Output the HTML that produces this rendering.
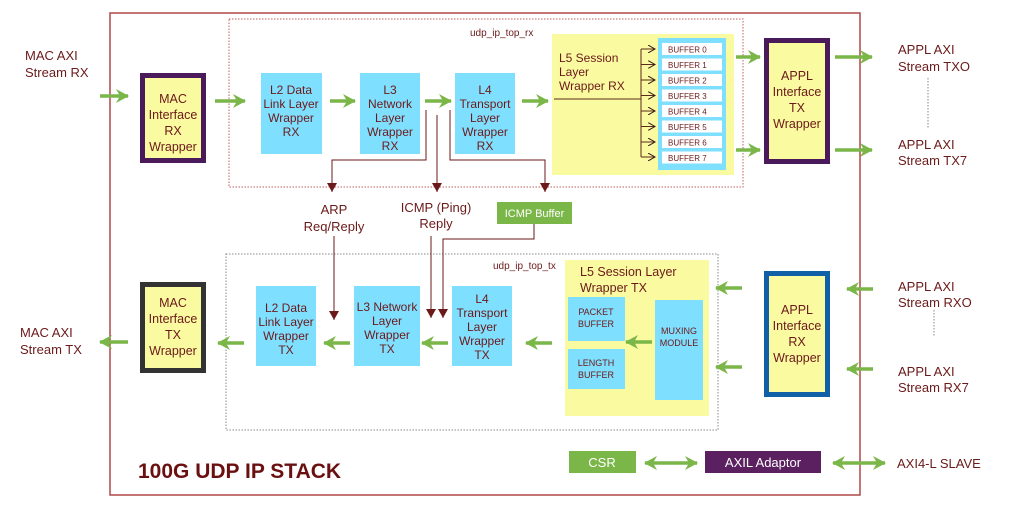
<!DOCTYPE html>
<html><head><meta charset="utf-8"><style>
body{margin:0;background:#fff}
svg{display:block}
text{font-family:"Liberation Sans",Arial,sans-serif;fill:#6b1a1a}
</style></head><body>
<svg width="1024" height="521" viewBox="0 0 1024 521" xmlns="http://www.w3.org/2000/svg">
<defs>
<marker id="g" markerUnits="userSpaceOnUse" markerWidth="14" markerHeight="14" refX="12" refY="7" orient="auto-start-reverse"><path d="M0,0 L13,7 L0,14 L4,7 Z" fill="#7ab648"/></marker>
<marker id="r" markerUnits="userSpaceOnUse" markerWidth="10" markerHeight="10" refX="5" refY="9" orient="0"><path d="M0,0 L10,0 L5,9 Z" fill="#6b1a1a"/></marker>
<marker id="rr" markerUnits="userSpaceOnUse" markerWidth="8" markerHeight="8" refX="7" refY="4" orient="auto"><path d="M0,0 L7,4 L0,8" fill="none" stroke="#3a1a1a" stroke-width="1"/></marker>
</defs>
<!-- outer -->
<rect x="110" y="13" width="750" height="482" fill="none" stroke="#b04848" stroke-width="1.5"/>
<rect x="229" y="19" width="514" height="168" fill="none" stroke="#c06060" stroke-width="1" stroke-dasharray="1.5,1.5"/>
<text x="470" y="36" font-size="10">udp_ip_top_rx</text>
<rect x="226" y="254" width="492" height="176" fill="none" stroke="#888" stroke-width="1" stroke-dasharray="1.5,1.5"/>
<text x="493" y="269" font-size="10">udp_ip_top_tx</text>

<!-- RX blocks -->
<rect x="142.5" y="75.5" width="61" height="85" fill="#fafaa0" stroke="#4a1a5a" stroke-width="5"/>
<text font-size="12.5" text-anchor="middle"><tspan x="173" y="103">MAC</tspan><tspan x="173" y="119">Interface</tspan><tspan x="173" y="135">RX</tspan><tspan x="173" y="151">Wrapper</tspan></text>
<rect x="261" y="73" width="61" height="81" fill="#7fdfff"/>
<text font-size="12" text-anchor="middle"><tspan x="291" y="94">L2 Data</tspan><tspan x="291" y="108">Link Layer</tspan><tspan x="291" y="122">Wrapper</tspan><tspan x="291" y="136">RX</tspan></text>
<rect x="360" y="73" width="60" height="81" fill="#7fdfff"/>
<text font-size="12" text-anchor="middle"><tspan x="390" y="94">L3</tspan><tspan x="390" y="108">Network</tspan><tspan x="390" y="122">Layer</tspan><tspan x="390" y="136">Wrapper</tspan><tspan x="390" y="150">RX</tspan></text>
<rect x="455" y="73" width="60" height="81" fill="#7fdfff"/>
<text font-size="12" text-anchor="middle"><tspan x="485" y="94">L4</tspan><tspan x="485" y="108">Transport</tspan><tspan x="485" y="122">Layer</tspan><tspan x="485" y="136">Wrapper</tspan><tspan x="485" y="150">RX</tspan></text>
<rect x="552" y="34" width="182" height="141" fill="#fafaa0"/>
<text font-size="12"><tspan x="559" y="62">L5 Session</tspan><tspan x="559" y="76">Layer</tspan><tspan x="559" y="90">Wrapper RX</tspan></text>
<rect x="658" y="38" width="68" height="132" fill="#7fdfff"/>
<g fill="#fff"><rect x="662" y="43" width="60" height="12"/><rect x="662" y="58.5" width="60" height="12"/><rect x="662" y="74" width="60" height="12"/><rect x="662" y="89.5" width="60" height="12"/><rect x="662" y="105" width="60" height="12"/><rect x="662" y="120.5" width="60" height="12"/><rect x="662" y="136" width="60" height="12"/><rect x="662" y="151.5" width="60" height="12"/></g>
<g font-size="8"><text x="668" y="52.5">BUFFER 0</text><text x="668" y="68">BUFFER 1</text><text x="668" y="83.5">BUFFER 2</text><text x="668" y="99">BUFFER 3</text><text x="668" y="114.5">BUFFER 4</text><text x="668" y="130">BUFFER 5</text><text x="668" y="145.5">BUFFER 6</text><text x="668" y="161">BUFFER 7</text></g>
<g stroke="#5a2a1a" stroke-width="1" fill="none">
<line x1="554" y1="99" x2="641" y2="99"/><line x1="641" y1="49" x2="641" y2="157"/>
<g marker-end="url(#rr)"><line x1="641" y1="49" x2="655" y2="49"/><line x1="641" y1="64.5" x2="655" y2="64.5"/><line x1="641" y1="80" x2="655" y2="80"/><line x1="641" y1="95.5" x2="655" y2="95.5"/><line x1="641" y1="111" x2="655" y2="111"/><line x1="641" y1="126.5" x2="655" y2="126.5"/><line x1="641" y1="142" x2="655" y2="142"/><line x1="641" y1="157" x2="655" y2="157"/></g>
</g>
<rect x="766.5" y="40.5" width="61" height="121" fill="#fafaa0" stroke="#4a1a5a" stroke-width="5"/>
<text font-size="12.5" text-anchor="middle"><tspan x="797" y="80">APPL</tspan><tspan x="797" y="96">Interface</tspan><tspan x="797" y="112">TX</tspan><tspan x="797" y="128">Wrapper</tspan></text>

<!-- RX branch lines -->
<g stroke="#6b1a1a" stroke-width="1" fill="none">
<polyline points="426,110 426,160 332,160 332,192" marker-end="url(#r)"/>
<polyline points="437,115 437,192" marker-end="url(#r)"/>
<polyline points="450,110 450,160 545,160 545,192" marker-end="url(#r)"/>
<polyline points="334,236 334,320" marker-end="url(#r)"/>
<polyline points="431,236 431,318" marker-end="url(#r)"/>
<polyline points="534,224 534,239 443,239 443,318" marker-end="url(#r)"/>
</g>
<text font-size="13" text-anchor="middle"><tspan x="334" y="214">ARP</tspan><tspan x="334" y="231">Req/Reply</tspan></text>
<text font-size="13" text-anchor="middle"><tspan x="436" y="212">ICMP (Ping)</tspan><tspan x="436" y="228">Reply</tspan></text>
<rect x="497" y="202" width="75" height="22" fill="#7ab648"/>
<text x="534.5" y="217" font-size="11" text-anchor="middle" style="fill:#fff">ICMP Buffer</text>

<!-- TX blocks -->
<rect x="142.5" y="284.5" width="61" height="86" fill="#fafaa0" stroke="#333" stroke-width="5"/>
<text font-size="12.5" text-anchor="middle"><tspan x="173" y="307">MAC</tspan><tspan x="173" y="323">Interface</tspan><tspan x="173" y="339">TX</tspan><tspan x="173" y="355">Wrapper</tspan></text>
<rect x="256" y="286" width="60" height="80" fill="#7fdfff"/>
<text font-size="12" text-anchor="middle"><tspan x="286" y="312">L2 Data</tspan><tspan x="286" y="326">Link Layer</tspan><tspan x="286" y="340">Wrapper</tspan><tspan x="286" y="354">TX</tspan></text>
<rect x="354" y="286" width="66" height="80" fill="#7fdfff"/>
<text font-size="12" text-anchor="middle"><tspan x="387" y="311">L3 Network</tspan><tspan x="387" y="325">Layer</tspan><tspan x="387" y="339">Wrapper</tspan><tspan x="387" y="353">TX</tspan></text>
<rect x="452" y="286" width="60" height="80" fill="#7fdfff"/>
<text font-size="12" text-anchor="middle"><tspan x="482" y="303">L4</tspan><tspan x="482" y="317">Transport</tspan><tspan x="482" y="331">Layer</tspan><tspan x="482" y="345">Wrapper</tspan><tspan x="482" y="359">TX</tspan></text>
<rect x="565" y="260" width="144" height="156" fill="#fafaa0"/>
<text font-size="12.5"><tspan x="580" y="276">L5 Session Layer</tspan><tspan x="580" y="292">Wrapper TX</tspan></text>
<rect x="568" y="297" width="57" height="44" fill="#7fdfff"/>
<text font-size="9" text-anchor="middle"><tspan x="596" y="315">PACKET</tspan><tspan x="596" y="327">BUFFER</tspan></text>
<rect x="568" y="349" width="57" height="40" fill="#7fdfff"/>
<text font-size="9" text-anchor="middle"><tspan x="596" y="366">LENGTH</tspan><tspan x="596" y="378">BUFFER</tspan></text>
<rect x="655" y="300" width="48" height="100" fill="#7fdfff"/>
<text font-size="9" text-anchor="middle"><tspan x="679" y="334">MUXING</tspan><tspan x="679" y="346">MODULE</tspan></text>
<rect x="766.5" y="273.5" width="61" height="121" fill="#fafaa0" stroke="#1060a8" stroke-width="5"/>
<text font-size="12.5" text-anchor="middle"><tspan x="797" y="314">APPL</tspan><tspan x="797" y="330">Interface</tspan><tspan x="797" y="346">RX</tspan><tspan x="797" y="362">Wrapper</tspan></text>

<!-- bottom -->
<rect x="569" y="451" width="67" height="22" fill="#7ab648"/>
<text x="602" y="467" font-size="13" text-anchor="middle" style="fill:#fff">CSR</text>
<rect x="705" y="451" width="116" height="22" fill="#5a2060"/>
<text x="763" y="467" font-size="13" text-anchor="middle" style="fill:#fff">AXIL Adaptor</text>
<text x="138" y="478" font-size="21" font-weight="bold" style="fill:#6b1010">100G UDP IP STACK</text>

<!-- green arrows -->
<g stroke="#7ab648" stroke-width="3.5" fill="none" marker-end="url(#g)">
<line x1="100" y1="96" x2="128" y2="96"/>
<line x1="215" y1="101" x2="245" y2="101"/>
<line x1="330" y1="101" x2="355" y2="101"/>
<line x1="425" y1="101" x2="451" y2="101"/>
<line x1="522" y1="101" x2="548" y2="101"/>
<line x1="736" y1="57" x2="760" y2="57"/>
<line x1="736" y1="150" x2="760" y2="150"/>
<line x1="835" y1="57" x2="872" y2="57"/>
<line x1="835" y1="150" x2="872" y2="150"/>
<line x1="873" y1="289" x2="847" y2="289"/>
<line x1="873" y1="369" x2="847" y2="369"/>
<line x1="742" y1="288" x2="716" y2="288"/>
<line x1="742" y1="367" x2="716" y2="367"/>
<line x1="552" y1="343" x2="526" y2="343"/>
<line x1="652" y1="342" x2="626" y2="342"/>
<line x1="448" y1="343" x2="422" y2="343"/>
<line x1="350" y1="343" x2="324" y2="343"/>
<line x1="244" y1="343" x2="218" y2="343"/>
<line x1="128" y1="342" x2="100" y2="342"/>
<line x1="645" y1="463" x2="697" y2="463" marker-start="url(#g)"/>
<line x1="833" y1="463" x2="885" y2="463" marker-start="url(#g)"/>
</g>

<!-- external labels -->
<text font-size="13"><tspan x="25" y="60">MAC AXI</tspan><tspan x="25" y="77">Stream RX</tspan></text>
<text font-size="13"><tspan x="20" y="337">MAC AXI</tspan><tspan x="20" y="354">Stream TX</tspan></text>
<text font-size="13"><tspan x="898" y="54">APPL AXI</tspan><tspan x="898" y="71">Stream TXO</tspan></text>
<text font-size="13"><tspan x="898" y="149">APPL AXI</tspan><tspan x="898" y="165">Stream TX7</tspan></text>
<text font-size="13"><tspan x="898" y="291">APPL AXI</tspan><tspan x="898" y="307">Stream RXO</tspan></text>
<text font-size="13"><tspan x="898" y="376">APPL AXI</tspan><tspan x="898" y="392">Stream RX7</tspan></text>
<text x="897" y="468" font-size="13">AXI4-L SLAVE</text>
<g stroke="#888" stroke-width="1" stroke-dasharray="1.5,1.5"><line x1="928" y1="78" x2="928" y2="128"/><line x1="934" y1="310" x2="934" y2="337"/></g>
</svg>
</body></html>
